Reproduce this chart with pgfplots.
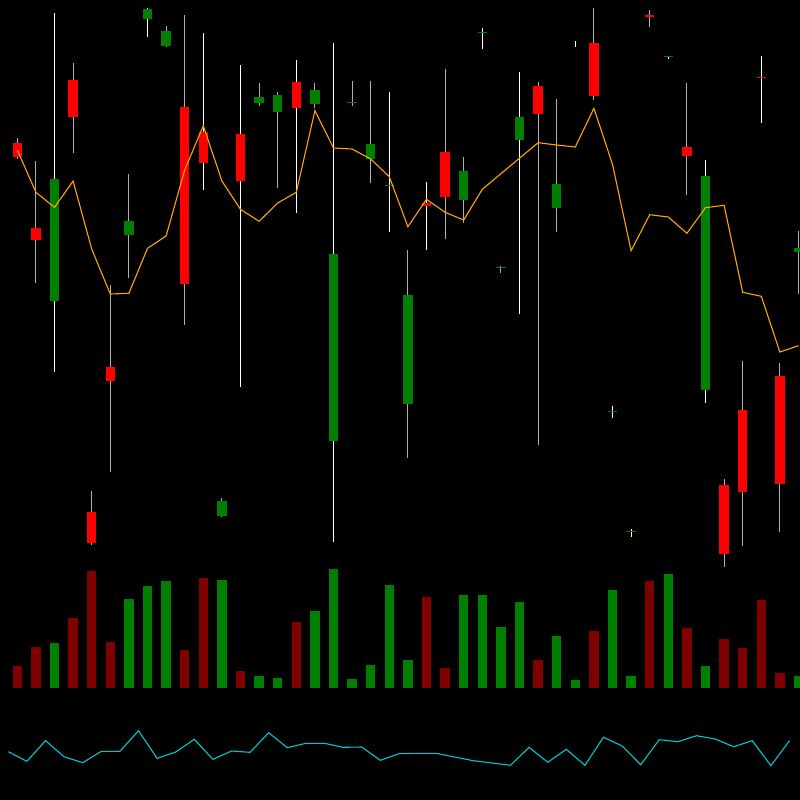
\documentclass[border=0pt]{standalone}
\usepackage{pgfplots}
\usepackage{pgfplotstable}
\pgfplotsset{compat=1.18}
\definecolor{cred}{RGB}{255,0,0}
\definecolor{cgreen}{RGB}{0,128,0}
\definecolor{vred}{RGB}{128,0,0}
\definecolor{wgrey}{RGB}{175,175,175}
\definecolor{corange}{RGB}{255,165,0}
\definecolor{ccyan}{RGB}{0,200,210}
% candles: i, wick top, wick bottom, body top, body bottom (pixel rows)
\pgfplotstableread{
i wt wb bt bb
0 138.3 158.7 142.7 156.7
1 161.3 283.3 228.3 240.3
3 63 152.7 80.3 117.3
4 491 544.7 512 542.7
5 285 472 367 381.3
9 15 325 107.3 284.3
23 69 238.7 152.3 197
28 81.7 445 85.7 113.7
31 8.3 99.7 42.7 96
34 10 27 14.7 16.7
36 83 195 147 156.3
38 479.3 567 485.3 554
39 361 546.3 409.7 492
41 363.3 532.3 376.3 484
}\redG
\pgfplotstableread{
i wt wb bt bb
10 33 190.3 132 163.3
12 65 386.7 134 180.7
15 60.3 213.3 82 107.7
22 182.3 249.7 203 206.3
40 56 123 77.3 78.3
}\redW
\pgfplotstableread{
i wt wb bt bb
6 174 277.7 221 235.3
8 25.7 47 31.3 46.3
11 498.3 517.3 501 516.3
13 83 106 97 102.7
14 92.3 188 95 112
16 83 107.7 90.3 103.7
18 81 106 101.7 103
19 81.3 182.7 144.3 158.7
21 250.3 457.7 295 404.3
24 157 223.3 171.3 200
26 266 272.7 266.7 267.7
29 99 231.7 184 208.3
42 231 294.3 248.3 252.3
}\greenG
\pgfplotstableread{
i wt wb bt bb
2 13.3 372.3 179 300.7
7 8 37.3 9.3 18.7
17 43 542 254 441
20 92 231.7 185 186.3
25 28.3 48.7 31.7 32.5
27 72.3 314 117.3 140.3
30 41 46.7 44 44
32 405.7 418 411 412
33 529.3 536.7 530.5 531.5
35 56 59.3 56 57.3
37 160.3 402.7 175.7 390.3
}\greenW
% volume: i, bar top (pixel row); base at 688
\pgfplotstableread{
i top
0 665.7
1 647
3 618.3
4 571
5 641.7
9 649.7
10 578
12 671
15 622.3
22 597.3
23 668
28 659.7
31 631
34 581.3
36 628.3
38 639
39 648
40 600.3
41 672.7
}\volRed
\pgfplotstableread{
i top
2 643
6 599
7 586.3
8 581.3
11 580.3
13 676
14 677.7
16 611.3
17 568.7
18 679
19 665
20 585.3
21 660.3
24 595
25 595.3
26 627
27 602
29 636.3
30 680.3
32 590
33 676.3
35 573.7
37 666
42 676.3
}\volGreen
% moving average line
\pgfplotstableread{
i y
0 150
1 192.3
2 207.3
3 181
4 249
5 294
6 293.3
7 248.3
8 236
9 170
10 125.7
11 181
12 209.3
13 221.3
14 203
15 192.3
16 110.7
17 148
18 149
19 159
20 176.7
21 226.7
22 199.3
23 212.3
24 220
25 189.3
26 173.7
27 158.2
28 142.7
29 145
30 147
31 108.3
32 164.3
33 250.7
34 214.7
35 217
36 233.3
37 207.7
38 205.3
39 292.3
40 296.3
41 352
42 345.7
}\ma
% lower indicator line
\pgfplotstableread{
i y
0 751.7
1 761.3
2 740.7
3 756.7
4 762.7
5 751.3
6 751.3
7 730.7
8 758.3
9 752
10 739.3
11 759.3
12 751
13 752.3
14 732.7
15 747.7
16 743.3
17 743.3
18 747.3
19 747
20 760.3
21 753.7
22 753.3
23 753.3
24 757
25 760.7
26 763
27 765.3
28 747.3
29 762.3
30 749.3
31 765.3
32 737.3
33 746
34 764.7
35 739.7
36 741.7
37 735.7
38 739
39 746.7
40 740.7
41 765.7
42 740.7
}\ind
\pgfplotsset{
  wick/.style={draw=none, error bars/.cd, y dir=plus, y explicit, error mark=none,
     error bar style={line width=0.55pt, draw=#1}},
  body/.style={draw=none, error bars/.cd, y dir=plus, y explicit, error mark=none,
     error bar style={line width=4.65pt, draw=#1}},
}
\begin{document}
\begin{tikzpicture}
\begin{axis}[
  x=0.5pt, y=0.5pt, xmin=0, xmax=800, ymin=0, ymax=800, y dir=reverse,
  ticks=none, axis line style={draw=none},
  axis background/.style={fill=black},
]
% wicks
\addplot[wick=wgrey] table[x expr=17.3+18.6*\thisrow{i}, y=wt, y error expr=\thisrow{wb}-\thisrow{wt}]{\redG};
\addplot[wick=wgrey] table[x expr=17.3+18.6*\thisrow{i}, y=wt, y error expr=\thisrow{wb}-\thisrow{wt}]{\greenG};
\addplot[wick=white] table[x expr=17.3+18.6*\thisrow{i}, y=wt, y error expr=\thisrow{wb}-\thisrow{wt}]{\redW};
\addplot[wick=white] table[x expr=17.3+18.6*\thisrow{i}, y=wt, y error expr=\thisrow{wb}-\thisrow{wt}]{\greenW};
% bodies
\addplot[body=cred] table[x expr=17.3+18.6*\thisrow{i}, y=bt, y error expr=\thisrow{bb}-\thisrow{bt}]{\redG};
\addplot[body=cred] table[x expr=17.3+18.6*\thisrow{i}, y=bt, y error expr=\thisrow{bb}-\thisrow{bt}]{\redW};
\addplot[body=cgreen] table[x expr=17.3+18.6*\thisrow{i}, y=bt, y error expr=\thisrow{bb}-\thisrow{bt}]{\greenG};
\addplot[body=cgreen] table[x expr=17.3+18.6*\thisrow{i}, y=bt, y error expr=\thisrow{bb}-\thisrow{bt}]{\greenW};
% moving average
\addplot[corange, line width=0.55pt, mark=none] table[x expr=17.3+18.6*\thisrow{i}, y=y]{\ma};
% volume
\addplot[body=vred] table[x expr=17.3+18.6*\thisrow{i}, y=top, y error expr=688-\thisrow{top}]{\volRed};
\addplot[body=cgreen] table[x expr=17.3+18.6*\thisrow{i}, y=top, y error expr=688-\thisrow{top}]{\volGreen};
% indicator
\addplot[ccyan, line width=0.55pt, mark=none] table[x expr=8.3+18.6*\thisrow{i}, y=y]{\ind};
\end{axis}
\end{tikzpicture}
\end{document}
